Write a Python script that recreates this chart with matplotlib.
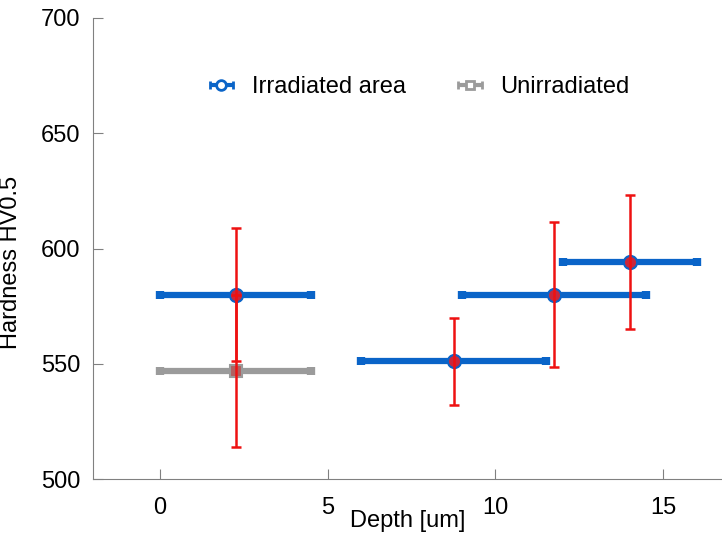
import numpy as np
import matplotlib
matplotlib.use("Agg")
import matplotlib.pyplot as plt

plt.rcParams['font.family'] = ['Liberation Sans', 'DejaVu Sans']

# Irradiated area: depth centre, half width, hardness, hardness error
irr_x = [2.25, 8.75, 11.75, 14.0]
irr_xerr = [2.25, 2.75, 2.75, 2.0]
irr_y = [580, 551, 580, 594]
irr_yerr = [29, 19, 31.5, 29]

# Unirradiated
un_x = [2.25]
un_xerr = [2.25]
un_y = [547]
un_yerr = [33]

blue = "#0a64c8"
gray = "#9b9b9b"
red = "#ee1111"
dot = "#c8283c"

fig = plt.figure(figsize=(7.22, 5.39), dpi=100)
ax = fig.add_axes([93/722, 60/539, (722-93)/722, (479-18)/539])

ax.errorbar(un_x, un_y, xerr=un_xerr, fmt="none", ecolor=gray, elinewidth=4.5,
            capsize=3, capthick=6, zorder=2)
ax.errorbar(irr_x, irr_y, xerr=irr_xerr, fmt="none", ecolor=blue, elinewidth=4.5,
            capsize=3, capthick=6, zorder=2)
ax.plot(un_x, un_y, "s", ms=8, mfc="#b06060", mec=gray, mew=1.5, zorder=3)
ax.plot(irr_x, irr_y, "o", ms=9.5, mfc=dot, mec=blue, mew=1.5, zorder=3)
ax.errorbar(irr_x, irr_y, yerr=irr_yerr, fmt="none", ecolor=red, elinewidth=1.8,
            capsize=3.5, capthick=1.8, zorder=4)
ax.errorbar(un_x, un_y, yerr=un_yerr, fmt="none", ecolor=red, elinewidth=1.8,
            capsize=3.5, capthick=1.8, zorder=4)

# legend proxies
h1 = ax.errorbar([np.nan], [np.nan], xerr=[1], fmt="o", color=blue, mfc="white",
                 mec=blue, ms=7, mew=2, elinewidth=3, capsize=3, capthick=3,
                 label="Irradiated area")
h2 = ax.errorbar([np.nan], [np.nan], xerr=[1], fmt="s", color=gray, mfc="white",
                 mec=gray, ms=6, mew=2, elinewidth=3, capsize=3, capthick=3,
                 label="Unirradiated")
fig.legend(handles=[h1, h2], loc="center", bbox_to_anchor=(0.578, 0.839), ncol=2,
           frameon=False, fontsize=17, handlelength=1.4, handletextpad=0.6,
           columnspacing=2.0)

ax.set_xlim(-2, (722-159)/33.6)
ax.set_ylim(500, 700)
ax.set_xticks([0, 5, 10, 15])
ax.set_yticks([500, 550, 600, 650, 700])
for s in ["top", "right"]:
    ax.spines[s].set_visible(False)
for s in ["left", "bottom"]:
    ax.spines[s].set_color("#808080")
ax.tick_params(direction="in", length=7, color="#808080", labelsize=17)
ax.tick_params(axis="x", pad=13)
ax.tick_params(axis="y", pad=9)
ax.set_xlabel("Depth [um]", fontsize=17)
ax.xaxis.set_label_coords(0.5, -0.068)
ax.set_ylabel("Hardness HV0.5", fontsize=17)
ax.yaxis.set_label_coords(-0.113, 0.47)

fig.savefig("out.png", dpi=100)
